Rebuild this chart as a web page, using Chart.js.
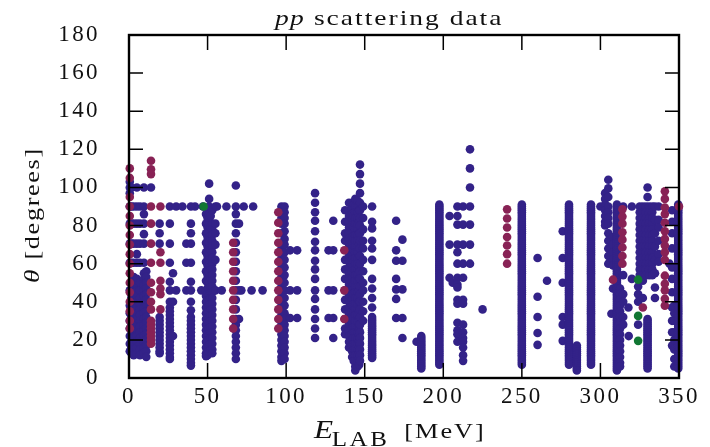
<!DOCTYPE html>
<html>
<head>
<meta charset="utf-8">
<script src="https://cdn.jsdelivr.net/npm/chart.js@4"></script>
<style>
  html, body { margin: 0; padding: 0; background: #fff; overflow: hidden; }
  #wrap { width: 710px; height: 447px; }
</style>
</head>
<body>
<div id="wrap"><canvas id="chart" width="710" height="447"></canvas></div>
<script>
// ------------ tick labels ------------
const xTicks = [0, 50, 100, 150, 200, 250, 300, 350];
const yTicks = [0, 20, 40, 60, 80, 100, 120, 140, 160, 180];

// ------------ long measured runs, shared by the densest energies ------------
const tallRun = [91,90,89,88,87,86,85,84,83,82,81,80,79,78,77,76,75,74,73,72,71,70,69,68,67,66,65,64,63,62,61,60,59,58,57,56,55,54,53,52,51,50,49,48,47,46,45,44,43,42,41,40,39,38,37,36,35,34,33,32,31,30,29,28,27,26,25,24,23,22,21,20,19,18,17,16,15,14,13,12,11,10,9,8,7];
const clusterRun = [90,87,84,81,78,75,72,69,66,63,60,57,54];

// ------------ each row: E_LAB, then the theta values read at that energy ------------
const purpleCols = [
  [0.5, 103,100,97,90,81,70.5,60.5,46,38,34,30,26,22,18,14],
  [1.5, 100,90,81,70.5,60.5,46,42,38,34,31,28,25,22,19,16,13],
  [3, 90,81,70.5,60.5,53,50,46,42,39,36,33,30,27,24,21,18,15,12],
  [5, 100,90,81,70.5,65,60.5,52,49,46,43,40,37,34,31,28,25,22,19,16,13],
  [7, 90,81,70.5,60.5,50,46,42,39,36,33,30,27,24,21,18,15,12],
  [9.5, 100,90,86,81,75.5,70.5,60.5,55,52,49,46,43,40,37,34,31,28,25,22,19,16,13],
  [11, 56,53,50,47,44,41,38,35,32,29,26,23,20,17,14,11],
  [14, 100],
  [19.5, 81,76,70.5,32,30,28,26,24,22,20,18,16,14,13],
  [26, 90,81,70.5,60.5,50.5,46,40,37,35,33,31,29,27,25,23,21,19,17,15,13,11,10],
  [28, 55,40,22], [30, 90,46], [34, 90], [42, 90],
  [36.5, 70.5,60.5,46],
  [39.4, 90,81,76,70.5,60.5,50.5,46,40,35.5,32,30,28,26,24,22,20,18,16,14,12,10,8,6.5],
  [46, 46], [47, 90],
  [49, 86,81,76,71,66,61,56,51,46,43,40,37,34,31,28,25,22,19,16,13,11.5],
  [50, 84,79,74,69,64,59,54,50,47,44,41,38,35,32,29,26,23,20,17,14,12],
  [51, 102,94,90,86,83,80,77,74,71,68,65,62,59,56,53,50,47,44,41,38,35,32,29,26,23,20,17,14],
  [52, 85,79,73,67,61,57,52,48,45,42,39,36,33,30,27,24,21,18,15],
  [53, 88,81,78,75,72,69,66,63,60,57,54,51,48,45,42,39,36,33,30,27,24,21,18,15,13],
  [55, 90,81,76,70,62,46], [56, 90], [59, 46], [62, 90],
  [68, 101,90,86,81,76,71,66,61,56,51,46,41,36,31,28,25,22,19,16,13,10],
  [70, 81,46,31], [71.5, 46], [73, 90], [79, 90], [78, 46], [85, 46],
  [97, 90,87,84,81,76,71,68,66,63,61,58,56,53,51,48,46,43,41,38,36,33,31,28,26,23,20,17,14,11,9],
  [99, 90,87,84,81,77,73,70,66,62,58,54,50,46,42,38,34,31,28,25,22,19,16,13,10],
  [102.5, 67,46,31.5], [107, 67,46,31.5],
  [118.4, 97,92,87,82.5,77,71.5,67,61.5,57,52,46,41.5,36,31,26,21],
  [127, 67,46,31.5], [130, 82.5,67,46,31.5,21],
  [137.5, 88,82,76,72,62,57,52,46,41,36,31,26,23],
  [140, 92,88,85,82,79,76,73,70,67,64,61,58,55,52,49,46,43,40,37,34,31,28,25,22,19,16],
  [142, 92,89,86,83,80,77,74,71,68,65,62,59,56,53,50,47,44,41,38,35,32,29,26,23,20,17,14,11],
  [143, 91,85,79,73,67,61,55,49,44,39,35,31,27,24,21,18,15,12,9],
  [144, 94,90,87,84,81,78,75,72,69,66,63,60,57,54,51,48,45,42,39,36,33,30,27,24,21,18,15,12,9,6,4],
  [145.5, 93,90,87,84,81,78,75,72,69,66,63,60,57,54,51,48,45,42,39,36,33,30,27,24,21,18,15,12,9,6],
  [146.5, 88,82,76,70,64,58,52,46,40,35,31,28,25,22,19,16,13,10,7],
  [147, 112,107,102,97,92,88,84,80,76,72,68,64,60,56,52,48,44,40,36,32,28,24,21,18,15,12,9],
  [149, 90,84,78,72,68,62,56,50,46,40,35,30],
  [154.7, 90,82,78.5,72,68,62,52,47,42,37,32,31,30,29,28,27,26,25,24,23,22,21,20,19,18,17,16,15,14,13,12,11,10.5],
  [170, 82.5,67,61.5,52,46.5,41.5,31.5],
  [174, 72.6,61.5,46.5,31.5,21],
  [183, 19], [186, 22,21,20,19,18,17,16,15,14,13,12,11,10,9,8,7,6,5],
  [197.5, ...tallRun],
  [204, 85,70,52.6], [206, 50],
  [209, 90,85,80.5,70,66,60,52.6,49,47.5,41,39,29,25,23,19],
  [212.6, 90,80.5,70,60,52.6,41,39,28,24,21,19,16,12,9],
  [217, 120,110,100,90,80.5,70,60],
  [225, 36],
  [250, ...tallRun],
  [260, 63,42.6,32,23.6,17.4], [266, 51],
  [276, 77,63,50,32,28,19.5],
  [280, ...tallRun],
  [285, 17,16,15,14,13,12,11,10,9,8,7,6,5,4],
  [294, ...tallRun],
  [300, 90],
  [303, 97,94,91,88,85,82,80],
  [305, 104,99.5,95,90,87,84,81,76,72,68,64,60],
  [308, 74,70,66,62,59,47],
  [307, 33.7],
  [310.5, ...tallRun, 6, 5, 4],
  [312.5, 47,44,41,38,35,32,29,26,23,20,17,14,11,8,6],
  [314.5, 90,54,44,40,32,28],
  [317.8, 37], [320, 90,52],
  [318, 22],
  [324, 48,44,40,28],
  [325, ...clusterRun],
  [327, ...clusterRun, 51,42],
  [329, ...clusterRun],
  [330, 100,95,31,30,29,28,27,26,25,24,23,22,21,20,19,18,17,16,15,14,13,12,11,10,9,8,7,6,5],
  [331, ...clusterRun],
  [333, ...clusterRun],
  [334.7, 90,83,76,69,62,55,47.5,42],
  [337, 90,83,79,72,65,61],
  [344, 60],
  [345.6, 88,82,76,68,58,52,45,37,30,24,17],
  [347, 38,34,30,24,20,15,10,6],
  [349.5, ...tallRun, 6, 5]
];
const wineCols = [
  [0.5, 110,105,95,90,85,80,75,70,65,60,55,50,45,40,35,30,26],
  [14, 114,109.5,107,90,81,70.5,60.5,50,45,40,36,30,28,26,24,22,20,18],
  [20, 90,66,60.5,51,47,44,36],
  [66.3, 71,66,61,56,51,46,41,36,31,26],
  [95, 87,81.5,76,71,66,61,56,51,46,41,36,31,26],
  [137, 67,46,31],
  [240.6, 88.5,83.7,79,74,69.5,65,60],
  [308, 51.6],
  [314, 88.5,84.7,81,76.5,72.6,68.5,64,60],
  [327, 37],
  [341, 98,94,89.5,86,81.5,77,73,69.5,66,62,53.7,49.5,46,41.6,38],
  [350, 90]
];
const greenCols = [
  [47.5, 90],
  [324, 51.6,32.6,19.5]
];

// ------------ colours ------------
const PURPLE = "#332288";
const WINE = "#882255";
const GREEN = "#117733";

function toPoints(cols){ return cols.flatMap(([e, ...thetas]) => thetas.map(t => ({ x: e, y: t }))); }
function scatterSet(cols, color){
  return { data: toPoints(cols), backgroundColor: color, borderWidth: 0, pointRadius: 4.3, pointHoverRadius: 4.3, clip: false };
}

// text pieces with mixed italic / roman, drawn left to right, stretched like the wide original serif
function drawRuns(ctx, x, y, angle, runs){
  ctx.save();
  ctx.translate(x, y);
  ctx.rotate(angle);
  ctx.scale(1.25, 1);
  let cx = 0;
  runs.forEach(r => {
    ctx.font = r.font;
    ctx.letterSpacing = r.spacing || "0px";
    cx += r.dx || 0;
    ctx.fillText(r.text, cx, r.dy || 0);
    cx += ctx.measureText(r.text).width;
  });
  ctx.restore();
}

const SERIF = '"Liberation Serif"';
const framePlugin = {
  id: "frame",
  beforeDraw(chart){ chart.ctx.letterSpacing = "2.4px"; },
  afterDatasetsDraw(chart){
    const { ctx, chartArea: a, scales } = chart;
    ctx.save();
    ctx.strokeStyle = "#000";
    // ticks pointing in, on all four sides
    ctx.lineWidth = 1.5;
    ctx.beginPath();
    xTicks.slice(1, -1).forEach(v => {
      const px = scales.x.getPixelForValue(v);
      ctx.moveTo(px, a.bottom); ctx.lineTo(px, a.bottom - 15);
      ctx.moveTo(px, a.top); ctx.lineTo(px, a.top + 15);
    });
    yTicks.slice(1, -1).forEach(v => {
      const py = scales.y.getPixelForValue(v);
      ctx.moveTo(a.left, py); ctx.lineTo(a.left + 14, py);
      ctx.moveTo(a.right, py); ctx.lineTo(a.right - 14, py);
    });
    ctx.stroke();
    ctx.lineWidth = 2.4;
    ctx.strokeRect(a.left, a.top, a.right - a.left, a.bottom - a.top);
    ctx.restore();
  },
  afterDraw(chart){
    const ctx = chart.ctx;
    ctx.save();
    ctx.fillStyle = "#111";
    ctx.textAlign = "left";
    ctx.textBaseline = "alphabetic";
    drawRuns(ctx, 275, 25, 0, [
      { text: "pp", font: "italic 22px " + SERIF, spacing: "1px" },
      { text: " scattering data", font: "22px " + SERIF, spacing: "1.6px" }
    ]);
    drawRuns(ctx, 314, 438, 0, [
      { text: "E", font: "italic 25px " + SERIF, spacing: "0px" },
      { text: "LAB", font: "20px " + SERIF, spacing: "2px", dy: 8, dx: -1 },
      { text: "[MeV]", font: "21px " + SERIF, spacing: "1.6px", dx: 12 }
    ]);
    drawRuns(ctx, 39, 283, -Math.PI / 2, [
      { text: "θ", font: "italic 22px " + SERIF, spacing: "0px" },
      { text: "[degrees]", font: "21px " + SERIF, spacing: "1.3px", dx: 8 }
    ]);
    ctx.restore();
  }
};

const tickFont = { family: "Liberation Serif", size: 23 };

new Chart(document.getElementById("chart"), {
  type: "scatter",
  data: { datasets: [scatterSet(greenCols, GREEN), scatterSet(wineCols, WINE), scatterSet(purpleCols, PURPLE)] },
  options: {
    responsive: false,
    animation: false,
    layout: { padding: { top: 35, right: 31, left: 0, bottom: 0 } },
    plugins: { legend: { display: false }, tooltip: { enabled: false } },
    scales: {
      x: {
        type: "linear", min: 0, max: 350,
        afterBuildTicks: s => { s.ticks = xTicks.map(v => ({ value: v })); },
        afterFit: s => { s.height = 69; s.paddingLeft = 0; s.paddingRight = 0; },
        grid: { display: false, drawTicks: false }, border: { display: false },
        ticks: { font: tickFont, color: "#111", padding: 5, maxRotation: 0, autoSkip: false }
      },
      y: {
        type: "linear", min: 0, max: 180,
        afterBuildTicks: s => { s.ticks = yTicks.map(v => ({ value: v })); },
        afterFit: s => { s.width = 129; s.paddingTop = 0; s.paddingBottom = 0; },
        grid: { display: false, drawTicks: false }, border: { display: false },
        ticks: { font: tickFont, color: "#111", padding: 29, autoSkip: false }
      }
    }
  },
  plugins: [framePlugin]
});
</script>
</body>
</html>
